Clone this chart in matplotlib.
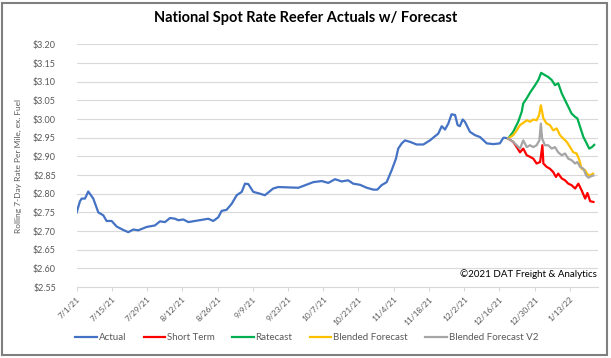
import matplotlib
matplotlib.use("Agg")
import matplotlib.pyplot as plt
from matplotlib.patches import Rectangle

plt.rcParams['font.family'] = ['Lato', 'DejaVu Sans']

# ---- data (x = days since 7/1/21) ----
actual_day = [0, 1.3, 2, 3.3, 4.6, 6.6, 8.6, 10.6, 11.9, 13.9, 15.9, 18.5, 20.5, 22.5, 24.5,
              27.8, 31.1, 33.1, 35.1, 37.1, 39.1, 40.4, 42.4, 44.4, 47.0, 49.7, 52.3, 54.3,
              56.3, 57.6, 59.6, 61.6, 63.6, 65.6, 66.9, 68.2, 70.2, 72.9, 74.8, 78.1, 80.1,
              88.1, 90.1, 94.0, 97.4, 100.0, 102.7, 105.3, 107.9, 109.9, 112.6, 115.3, 117.9,
              119.5, 121.2, 123.2, 125.2, 126.9, 127.8, 129.2, 130.5, 132.5, 135.1, 137.8,
              140.4, 142.4, 143.7, 145.1, 146.4, 147.7, 149.0, 150.4, 151.4, 152.3, 153.4,
              154.3, 156.3, 158.3, 160.3, 163.0, 165.6, 168.2, 169.6, 170.2, 171.5]
actual_val = [2.750, 2.780, 2.787, 2.787, 2.806, 2.787, 2.750, 2.742, 2.727, 2.727, 2.712, 2.703,
              2.697, 2.704, 2.702, 2.711, 2.715, 2.726, 2.724, 2.735, 2.733, 2.729, 2.731, 2.724,
              2.727, 2.730, 2.733, 2.727, 2.737, 2.754, 2.757, 2.773, 2.796, 2.805, 2.827, 2.826,
              2.805, 2.800, 2.796, 2.814, 2.818, 2.816, 2.821, 2.831, 2.834, 2.829, 2.839, 2.833,
              2.836, 2.827, 2.824, 2.816, 2.811, 2.811, 2.823, 2.831, 2.863, 2.894, 2.921, 2.935,
              2.943, 2.939, 2.932, 2.932, 2.943, 2.954, 2.961, 2.981, 2.972, 2.988, 3.013, 3.011,
              2.984, 2.981, 2.999, 2.993, 2.966, 2.957, 2.952, 2.935, 2.933, 2.935, 2.950, 2.950,
              2.948]

short_day = [171.5, 173.5, 174.9, 176.2, 177.5, 178.9, 180.2, 181.5, 182.8, 184.2, 185.1, 185.5,
             186.8, 188.1, 189.4, 190.5, 191.4, 192.8, 194.1, 195.4, 196.7, 198.1, 199.4, 200.7,
             202.1, 203.0, 204.1, 205.4]
short_val = [2.948, 2.939, 2.925, 2.911, 2.921, 2.903, 2.899, 2.894, 2.881, 2.885, 2.930, 2.881,
             2.872, 2.867, 2.858, 2.845, 2.854, 2.841, 2.836, 2.827, 2.823, 2.814, 2.827, 2.809,
             2.787, 2.802, 2.780, 2.778]

rate_day = [171.5, 173.5, 175.5, 176.9, 177.5, 178.9, 180.2, 182.2, 183.5, 184.6, 186.1, 187.4,
            188.8, 190.1, 191.4, 192.8, 194.1, 195.4, 196.7, 198.1, 199.0, 200.1, 201.4, 202.7,
            203.7, 204.8, 205.7]
rate_val = [2.948, 2.966, 2.993, 3.020, 3.042, 3.056, 3.071, 3.091, 3.105, 3.124, 3.118, 3.113,
            3.105, 3.091, 3.096, 3.069, 3.051, 3.033, 3.015, 3.006, 3.002, 2.979, 2.952, 2.935,
            2.921, 2.925, 2.931]

blend_day = [171.5, 173.5, 174.9, 176.2, 177.5, 178.9, 180.2, 181.5, 182.8, 183.8, 184.5, 185.5,
             186.8, 188.1, 189.4, 190.8, 192.1, 193.4, 194.8, 196.1, 197.4, 198.7, 199.8, 200.7,
             202.1, 203.0, 204.1, 205.2]
blend_val = [2.948, 2.957, 2.970, 2.984, 2.990, 2.997, 2.993, 2.999, 2.997, 3.011, 3.037, 3.002,
             2.988, 2.984, 2.970, 2.975, 2.957, 2.948, 2.939, 2.925, 2.911, 2.908, 2.890, 2.867,
             2.863, 2.852, 2.849, 2.854]

v2_day = [171.5, 173.5, 174.9, 176.2, 177.5, 178.9, 180.2, 181.5, 182.8, 183.9, 184.5, 185.0,
          186.1, 187.4, 188.8, 190.1, 191.4, 192.8, 194.1, 195.4, 196.7, 198.1, 199.0, 200.1,
          201.4, 202.5, 203.4, 204.5, 205.4]
v2_val = [2.948, 2.939, 2.930, 2.921, 2.943, 2.925, 2.930, 2.925, 2.930, 2.943, 2.988, 2.948,
          2.930, 2.930, 2.921, 2.925, 2.911, 2.903, 2.908, 2.894, 2.890, 2.881, 2.885, 2.872,
          2.867, 2.849, 2.843, 2.847, 2.849]

tick_days = [0, 14, 28, 42, 56, 70, 84, 98, 112, 126, 140, 154, 168, 182, 196]
tick_labels = ['7/1/21', '7/15/21', '7/29/21', '8/12/21', '8/26/21', '9/9/21', '9/23/21',
               '10/7/21', '10/21/21', '11/4/21', '11/18/21', '12/2/21', '12/16/21',
               '12/30/21', '1/13/22']
y_ticks = [2.55, 2.60, 2.65, 2.70, 2.75, 2.80, 2.85, 2.90, 2.95, 3.00, 3.05, 3.10, 3.15, 3.20]

series = [
    ('Actual', actual_day, actual_val, '#4472C4'),
    ('Short Term', short_day, short_val, '#FF0000'),
    ('Ratecast', rate_day, rate_val, '#00B050'),
    ('Blended Forecast', blend_day, blend_val, '#FFC000'),
    ('Blended Forecast V2', v2_day, v2_val, '#A5A5A5'),
]

fig = plt.figure(figsize=(6.11, 3.58), dpi=100)
ax = fig.add_axes([0.1255, 0.1983, 0.8532, 0.6774])

for name, xs, ys, c in series:
    ax.plot(xs, ys, color=c, lw=1.6, label=name, solid_joinstyle='round')

ax.set_xlim(0, 207.2)
ax.set_ylim(2.55, 3.20)
ax.set_yticks(y_ticks)
ax.set_yticklabels(['${:.2f}'.format(v) for v in y_ticks])
ax.set_xticks(tick_days)
ax.set_xticklabels(tick_labels, rotation=45, ha='right', rotation_mode='anchor')
ax.grid(axis='y', color='#D9D9D9', lw=0.8)
ax.set_axisbelow(True)
for s in ['top', 'right', 'left']:
    ax.spines[s].set_visible(False)
ax.spines['bottom'].set_color('#D9D9D9')
ax.spines['bottom'].set_linewidth(0.8)
ax.tick_params(axis='y', length=0, pad=15, labelsize=6.5, labelcolor='#595959')
ax.tick_params(axis='x', length=3, color='#D9D9D9', labelsize=6, labelcolor='#595959', pad=3)

ax.set_ylabel('Rolling 7-Day Rate Per Mile, ex. Fuel', fontsize=6, color='#595959')
ax.yaxis.set_label_coords(-0.105, 0.5)

fig.text(0.5, 0.949, 'National Spot Rate Reefer Actuals w/ Forecast', ha='center', va='center',
         fontsize=10.5, fontweight='bold', color='black')
fig.text(0.977, 0.235, '\u00a92021 DAT Freight & Analytics', ha='right', va='center',
         fontsize=7, color='black')

leg = fig.legend(loc='center', bbox_to_anchor=(0.502, 0.056), ncol=5, frameon=False,
                 fontsize=7, handlelength=2.2, handletextpad=0.2, columnspacing=1.8)
for t in leg.get_texts():
    t.set_color('#595959')

fig.patches.append(Rectangle((0.004, 0.008), 0.99, 0.985, transform=fig.transFigure,
                             fill=False, edgecolor='#7F7F7F', lw=1.5))

fig.savefig('out.png', dpi=100)
